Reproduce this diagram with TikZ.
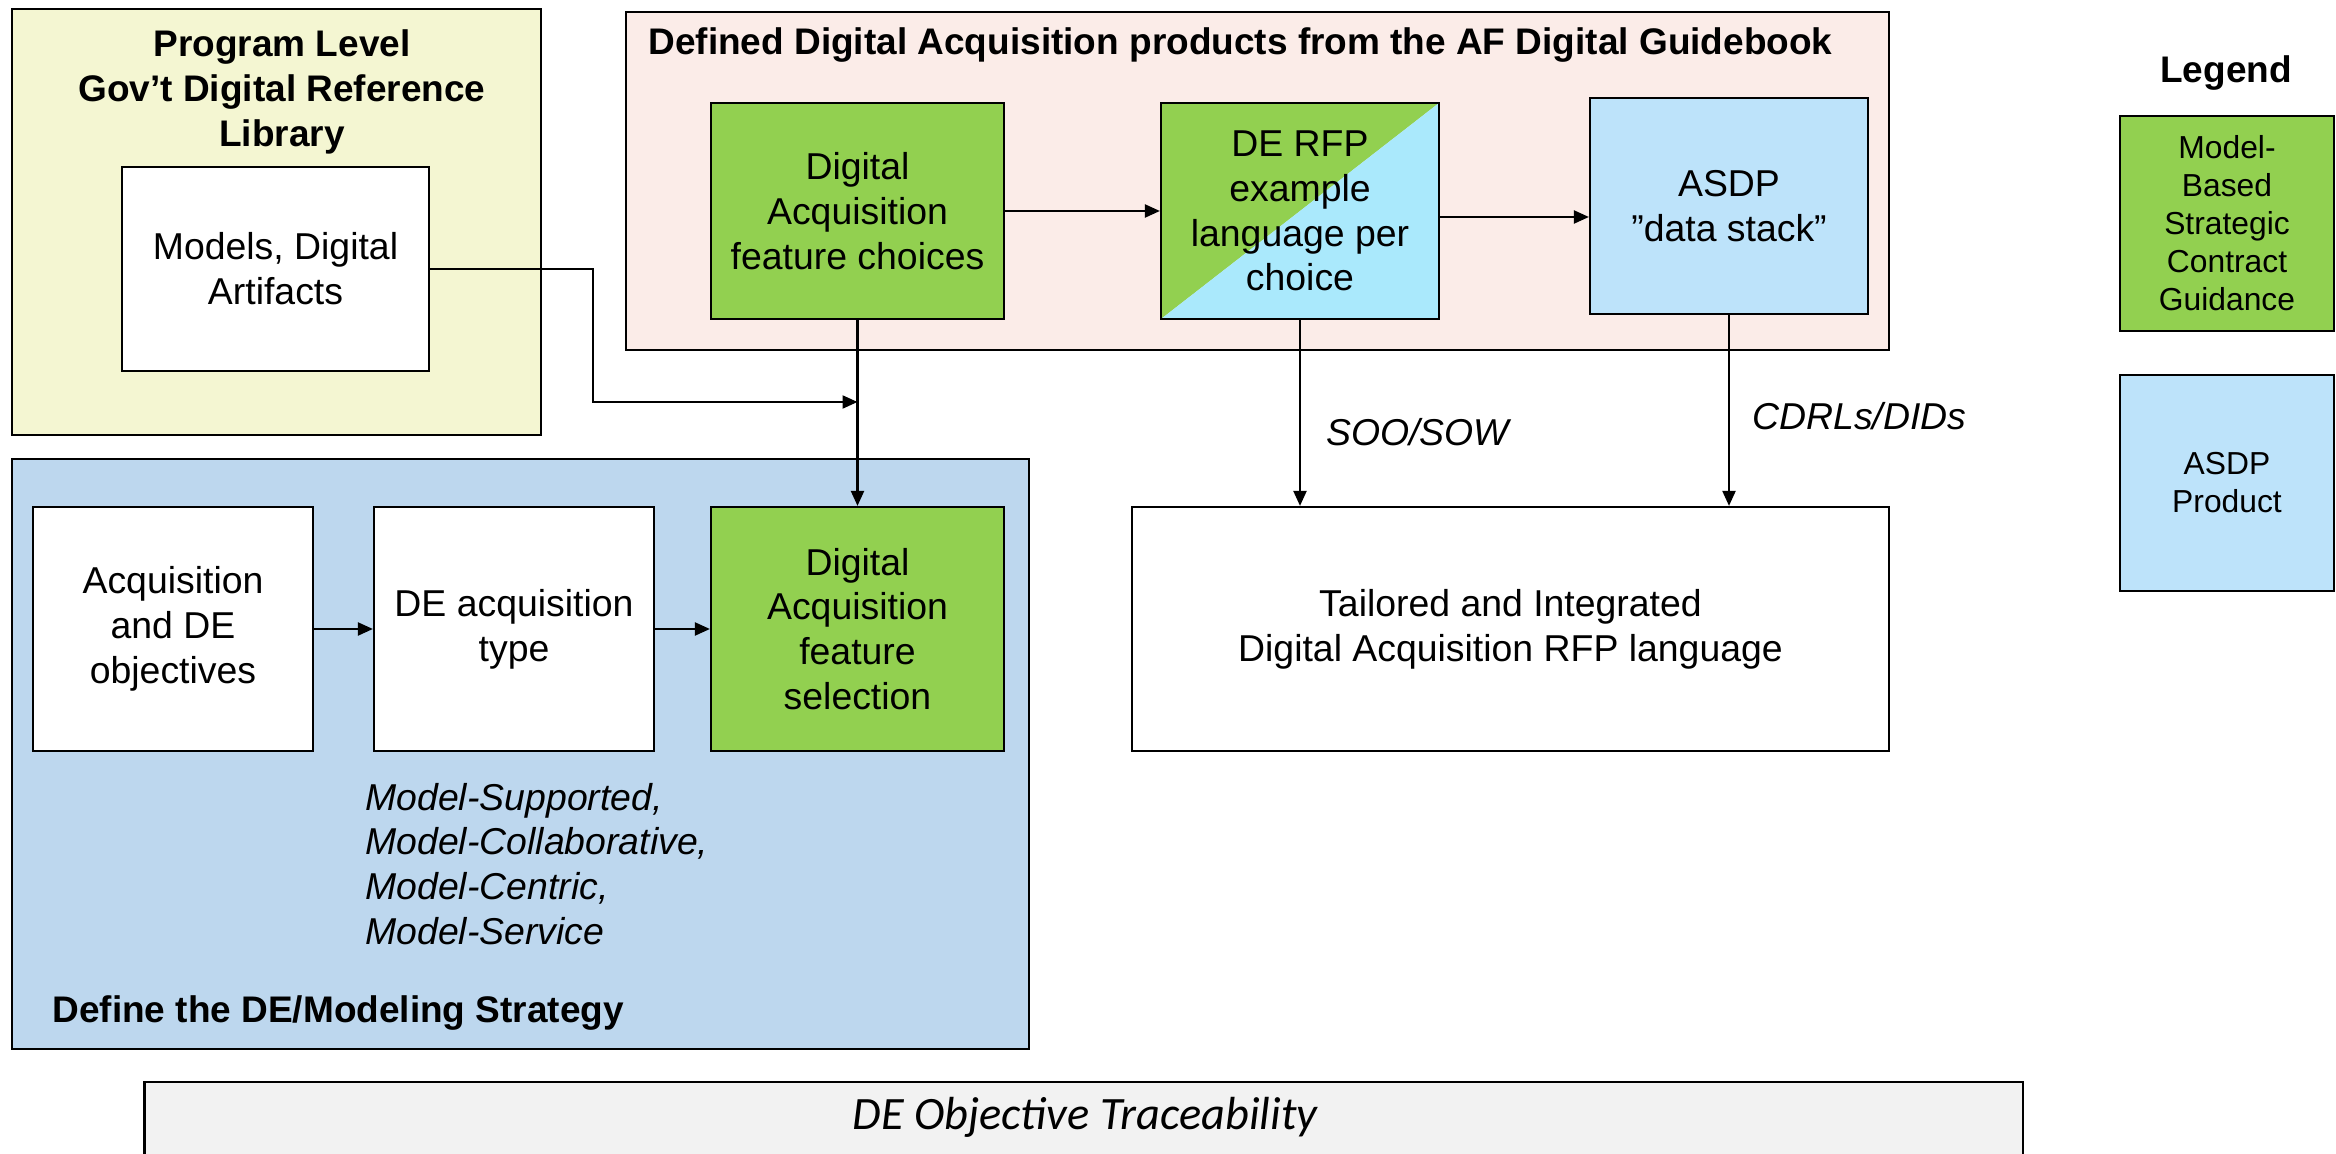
\documentclass[tikz,border=0pt]{standalone}
\usepackage{fontspec}
\setmainfont{Liberation Sans}
\newfontfamily\carlito{Carlito}
\usetikzlibrary{arrows.meta}
\definecolor{libyellow}{HTML}{F4F6D2}
\definecolor{guidepink}{HTML}{FBECE8}
\definecolor{choicegreen}{HTML}{92D050}
\definecolor{asdpblue}{HTML}{BDE3FA}
\definecolor{rfpcyan}{HTML}{AAE9FC}
\definecolor{strategyblue}{HTML}{BDD7EE}
\definecolor{tracegray}{HTML}{F2F2F2}
\newcommand{\boxfont}{\fontsize{18.7}{22.4}\selectfont}
\newcommand{\titlefont}{\bfseries\fontsize{18.5}{22.4}\selectfont}
\newcommand{\legendfont}{\fontsize{15.9}{19}\selectfont}

\begin{document}
\begin{tikzpicture}[x=0.5pt, y=-0.5pt,
	box/.style={draw, line width=1.1pt, rectangle, inner sep=0pt, align=center, font=\boxfont},
	arr/.style={line width=1.1pt, -{Triangle[length=7.5pt,width=6.5pt]}},
	note/.style={anchor=west, align=left, inner sep=0pt, font=\itshape\boxfont},
]
	\useasboundingbox (0,0) rectangle (2336,1154);

	\node[box, fill=libyellow, minimum width=264.5pt, minimum height=213pt] (library) at (276.5,222) {};
	\node[font=\titlefont, align=center] (librarytitle) at (282,92) {Program Level\\Gov’t Digital Reference\\Library};
	\node[box, fill=white, minimum width=153.5pt, minimum height=102pt] (models) at (275.5,269) {Models, Digital\\Artifacts};

	\node[box, fill=guidepink, minimum width=631.5pt, minimum height=169pt] (guidebook) at (1257.5,181) {};
	\node[anchor=west, inner sep=0pt, font=\titlefont] (guidetitle) at (648,45) {Defined Digital Acquisition products from the AF Digital Guidebook};
	\node[box, fill=choicegreen, minimum width=146.5pt, minimum height=108pt] (choices) at (857.5,211) {Digital\\Acquisition\\feature choices};
	\node[box, minimum width=139pt, minimum height=108pt, path picture={
		\fill[choicegreen] (path picture bounding box.north west) -- (path picture bounding box.north east) -- (path picture bounding box.south west) -- cycle;
		\fill[rfpcyan] (path picture bounding box.north east) -- (path picture bounding box.south east) -- (path picture bounding box.south west) -- cycle;
	}] (rfp) at (1300,211) {DE RFP\\example\\language per\\choice};
	\node[box, fill=asdpblue, minimum width=139pt, minimum height=108pt] (asdp) at (1729,206) {ASDP\\”data stack”};

	\node[box, fill=strategyblue, minimum width=508.5pt, minimum height=295pt] (strategy) at (520.5,754) {};
	\node[anchor=west, inner sep=0pt, font=\titlefont] (strategytitle) at (52,1013) {Define the DE/Modeling Strategy};
	\node[box, fill=white, minimum width=140pt, minimum height=122pt] (objectives) at (173,629) {Acquisition\\and DE\\objectives};
	\node[box, fill=white, minimum width=140pt, minimum height=122pt] (detype) at (514,629) {DE acquisition\\type};
	\node[box, fill=choicegreen, minimum width=146.5pt, minimum height=122pt] (selection) at (857.5,629) {Digital\\Acquisition\\feature\\selection};
	\node[note] (types) at (365,864) {Model-Supported,\\Model-Collaborative,\\Model-Centric,\\Model-Service};

	\node[box, fill=white, minimum width=378.5pt, minimum height=122pt] (tailored) at (1510.5,629) {Tailored and Integrated\\Digital Acquisition RFP language};
	\node[note] (soo) at (1326,432) {SOO/SOW};
	\node[note] (cdrl) at (1752,416) {CDRLs/DIDs};

	\node[font=\titlefont] (legendtitle) at (2226,73) {Legend};
	\node[box, fill=choicegreen, minimum width=107pt, minimum height=107.5pt, font=\legendfont] (legendgreen) at (2227,223.5) {Model-\\Based\\Strategic\\Contract\\Guidance};
	\node[box, fill=asdpblue, minimum width=107pt, minimum height=108pt, font=\legendfont] (legendblue) at (2227,483) {ASDP\\Product};

	\node[box, fill=tracegray, minimum width=939.25pt, minimum height=44pt] (trace) at (1083.75,1126) {};
	\node[font=\carlito\itshape\fontsize{23.2}{28}\selectfont] (tracetext) at (1085,1117) {DE Objective Traceability};

	\coordinate (bend) at (593,402);
	\coordinate (junction) at (857.5,402);
	\draw[arr] (choices.east) -- (rfp.west);
	\draw[arr] ([yshift=-3pt]rfp.east) -- ([yshift=-3pt]rfp.east -| asdp.west);
	\draw[arr] (objectives.east) -- (detype.west);
	\draw[arr] (detype.east) -- (selection.west);
	\draw[arr] (choices.south) -- (selection.north);
	\draw[arr] (models.east) -| (bend) -- (junction);
	\draw[arr] (rfp.south) -- (rfp.south |- tailored.north);
	\draw[arr] (asdp.south) -- (asdp.south |- tailored.north);
\end{tikzpicture}
\end{document}
